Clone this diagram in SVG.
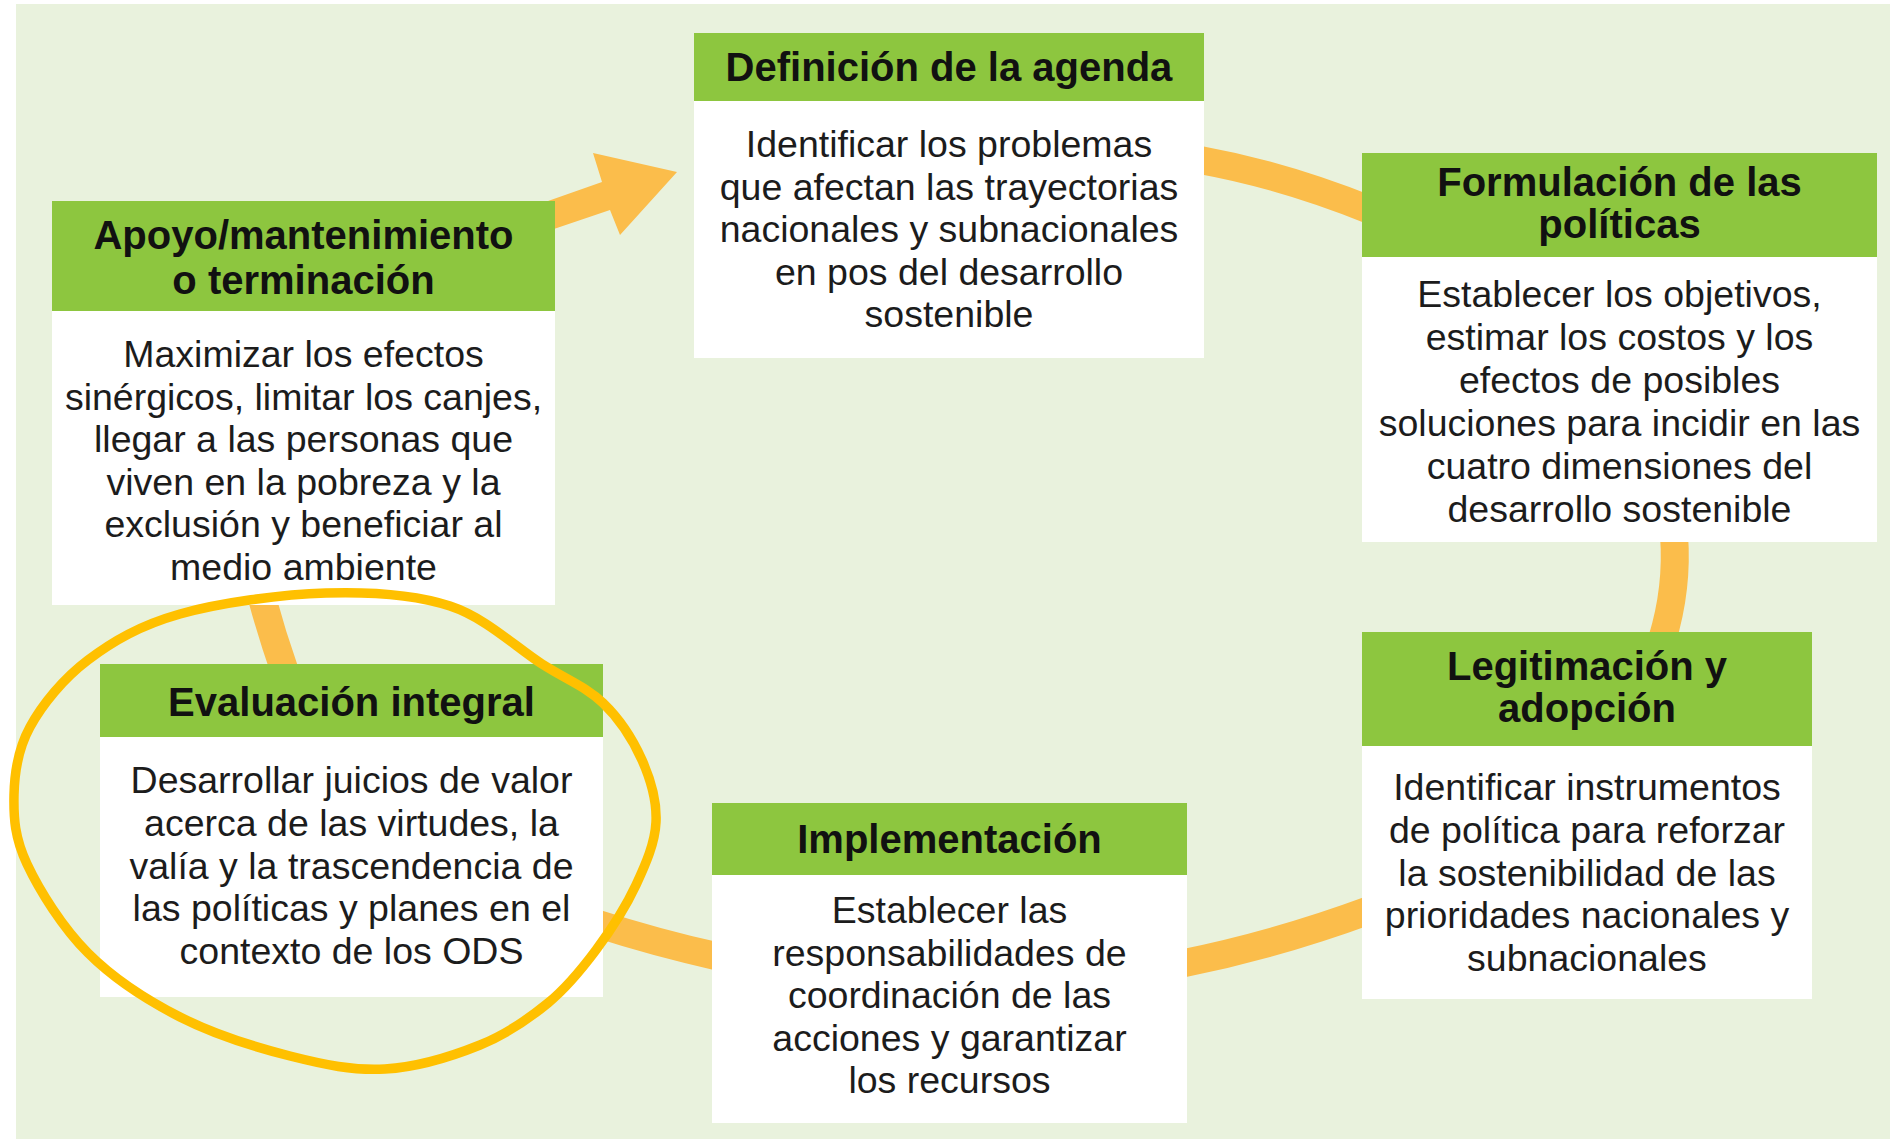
<svg xmlns="http://www.w3.org/2000/svg" width="1890" height="1139" viewBox="0 0 1890 1139">
<style>
.hdr{fill:#8DC63F}
.bdy{fill:#FFFFFF}
.t{font-family:"Liberation Sans",Arial,sans-serif;font-weight:bold;font-size:40px;fill:#111;text-anchor:middle}
.b{font-family:"Liberation Sans",Arial,sans-serif;font-size:37.5px;fill:#1c1c1c;text-anchor:middle}
.conn{fill:none;stroke:#FBBD4B;stroke-width:28}
</style>
<rect x="0" y="0" width="1890" height="1139" fill="#FFFFFF"/>
<rect x="16" y="4" width="1874" height="1135" fill="#E9F2DD"/>
<g id="connectors">
<path class="conn" d="M1200,160 Q1283,175 1370,210"/>
<path class="conn" d="M1674,535 Q1678,588 1662,640"/>
<path class="conn" d="M1370,910 Q1275,945 1180,964"/>
<path class="conn" d="M720,957 Q657,943 595,923"/>
<path class="conn" d="M262,598 Q272,635 285,672"/>
<polygon fill="#FBBD4B" points="548,201 602,182 593,153 677,172 620,235 610,210 548,231"/>
</g>
<g id="node-definicion">
<rect class="hdr" x="694" y="33" width="510" height="68"/>
<rect class="bdy" x="694" y="101" width="510" height="257"/>
<text class="t" x="949" y="81">Definición de la agenda</text>
<text class="b"><tspan x="949" y="157">Identificar los problemas</tspan><tspan x="949" y="199.5">que afectan las trayectorias</tspan><tspan x="949" y="242">nacionales y subnacionales</tspan><tspan x="949" y="284.5">en pos del desarrollo</tspan><tspan x="949" y="327">sostenible</tspan></text>
</g>
<g id="node-formulacion">
<rect class="hdr" x="1362" y="153" width="515" height="104"/>
<rect class="bdy" x="1362" y="257" width="515" height="285"/>
<text class="t"><tspan x="1619.5" y="196">Formulación de las</tspan><tspan x="1619.5" y="238">políticas</tspan></text>
<text class="b"><tspan x="1619.5" y="307">Establecer los objetivos,</tspan><tspan x="1619.5" y="350">estimar los costos y los</tspan><tspan x="1619.5" y="393">efectos de posibles</tspan><tspan x="1619.5" y="436">soluciones para incidir en las</tspan><tspan x="1619.5" y="479">cuatro dimensiones del</tspan><tspan x="1619.5" y="522">desarrollo sostenible</tspan></text>
</g>
<g id="node-legitimacion">
<rect class="hdr" x="1362" y="632" width="450" height="114"/>
<rect class="bdy" x="1362" y="746" width="450" height="253"/>
<text class="t"><tspan x="1587" y="680">Legitimación y</tspan><tspan x="1587" y="722">adopción</tspan></text>
<text class="b"><tspan x="1587" y="800">Identificar instrumentos</tspan><tspan x="1587" y="842.75">de política para reforzar</tspan><tspan x="1587" y="885.5">la sostenibilidad de las</tspan><tspan x="1587" y="928.25">prioridades nacionales y</tspan><tspan x="1587" y="971">subnacionales</tspan></text>
</g>
<g id="node-implementacion">
<rect class="hdr" x="712" y="803" width="475" height="72"/>
<rect class="bdy" x="712" y="875" width="475" height="248"/>
<text class="t" x="949.5" y="853">Implementación</text>
<text class="b"><tspan x="949.5" y="923">Establecer las</tspan><tspan x="949.5" y="965.5">responsabilidades de</tspan><tspan x="949.5" y="1008">coordinación de las</tspan><tspan x="949.5" y="1050.5">acciones y garantizar</tspan><tspan x="949.5" y="1093">los recursos</tspan></text>
</g>
<g id="node-evaluacion">
<rect class="hdr" x="100" y="664" width="503" height="73"/>
<rect class="bdy" x="100" y="737" width="503" height="260"/>
<text class="t" x="351.5" y="716">Evaluación integral</text>
<text class="b"><tspan x="351.5" y="793">Desarrollar juicios de valor</tspan><tspan x="351.5" y="835.75">acerca de las virtudes, la</tspan><tspan x="351.5" y="878.5">valía y la trascendencia de</tspan><tspan x="351.5" y="921.25">las políticas y planes en el</tspan><tspan x="351.5" y="964">contexto de los ODS</tspan></text>
</g>
<g id="node-apoyo">
<rect class="hdr" x="52" y="201" width="503" height="110"/>
<rect class="bdy" x="52" y="311" width="503" height="294"/>
<text class="t"><tspan x="303.5" y="249">Apoyo/mantenimiento</tspan><tspan x="303.5" y="294">o terminación</tspan></text>
<text class="b"><tspan x="303.5" y="367">Maximizar los efectos</tspan><tspan x="303.5" y="409.5">sinérgicos, limitar los canjes,</tspan><tspan x="303.5" y="452">llegar a las personas que</tspan><tspan x="303.5" y="494.5">viven en la pobreza y la</tspan><tspan x="303.5" y="537">exclusión y beneficiar al</tspan><tspan x="303.5" y="579.5">medio ambiente</tspan></text>
</g>
<g id="highlight">
<path fill="none" stroke="#FFC000" stroke-width="9.5" stroke-linejoin="round" d="M326,593 C371,591.67 414,594.17 450,606 C486,617.83 516.5,647.83 542,664 C567.5,680.17 586.33,687 603,703 C619.67,719 633.17,740.17 642,760 C650.83,779.83 657,801.17 656,822 C655,842.83 646,863.67 636,885 C626,906.33 610.67,930.33 596,950 C581.33,969.67 567.33,987.17 548,1003 C528.67,1018.83 507.17,1034 480,1045 C452.83,1056 416.67,1067.17 385,1069 C353.33,1070.83 324.17,1064.67 290,1056 C255.83,1047.33 213.67,1034.17 180,1017 C146.33,999.83 113.5,978.5 88,953 C62.5,927.5 39.33,890.33 27,864 C14.67,837.67 13.5,817.83 14,795 C14.5,772.17 17.67,749.5 30,727 C42.33,704.5 63,678.83 88,660 C113,641.17 140.33,625.17 180,614 C219.67,602.83 281,594.33 326,593 Z"/>
</g>
</svg>
